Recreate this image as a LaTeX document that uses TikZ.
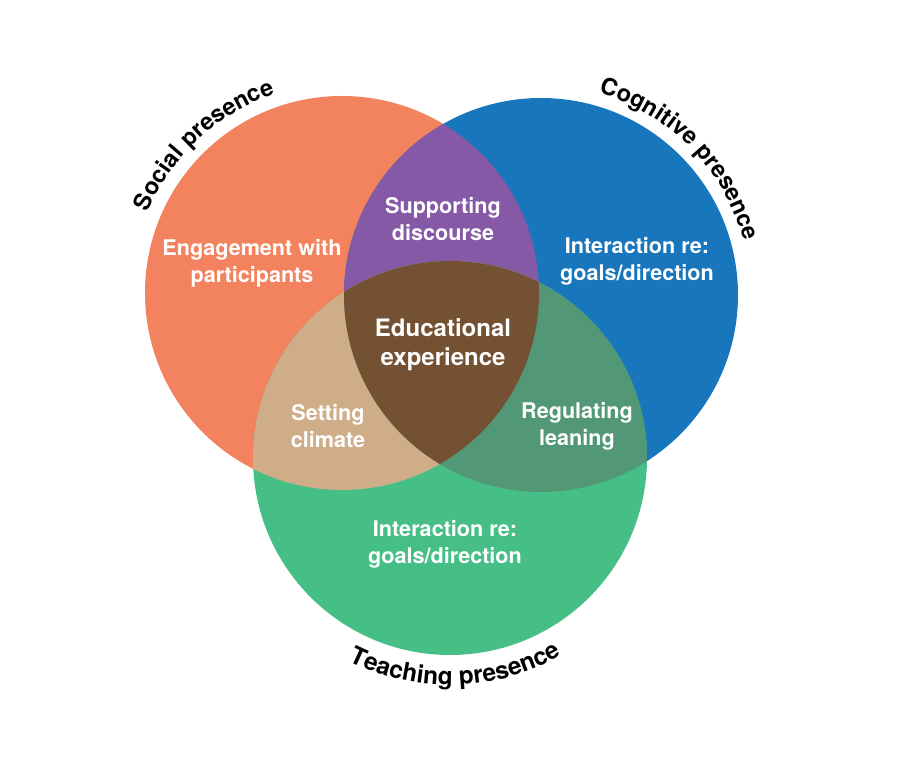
\documentclass[tikz,border=0pt]{standalone}
\usepackage{fontspec}
\setmainfont{TeX Gyre Heros}
\usetikzlibrary{decorations.text}

\definecolor{csocial}{HTML}{F3825F}
\definecolor{ccognitive}{HTML}{1776BC}
\definecolor{cteaching}{HTML}{46BF86}
\definecolor{cdiscourse}{HTML}{8559A6}
\definecolor{cclimate}{HTML}{CFAD89}
\definecolor{cregulate}{HTML}{529877}
\definecolor{ccore}{HTML}{745132}

\tikzset{
  inlabel/.style={text=white, align=center, inner sep=0pt,
    font=\bfseries\fontsize{21.6}{27}\selectfont},
  corelabel/.style={inlabel, font=\bfseries\fontsize{24}{29}\selectfont},
  arclabel/.style 2 args={decorate, decoration={text along path, text align=center,
    text={|\bfseries\fontsize{#1}{28}\selectfont|#2}}}
}

\begin{document}
\begin{tikzpicture}[x=1pt,y=1pt]
\useasboundingbox (0,0) rectangle (900,773);

% circle centres
\coordinate (so) at (342,480);
\coordinate (co) at (541,478);
\coordinate (te) at (450,315);

% the three presences
\fill[csocial] (so) circle[radius=197pt];
\fill[ccognitive] (co) circle[radius=197pt];
\fill[cteaching] (te) circle[radius=197pt];

% pairwise overlaps
\begin{scope}
  \clip (so) circle[radius=197pt];
  \fill[cdiscourse] (co) circle[radius=197pt];
\end{scope}
\begin{scope}
  \clip (so) circle[radius=197pt];
  \fill[cclimate] (te) circle[radius=197pt];
\end{scope}
\begin{scope}
  \clip (co) circle[radius=197pt];
  \fill[cregulate] (te) circle[radius=197pt];
\end{scope}
% triple overlap
\begin{scope}
  \clip (so) circle[radius=197pt];
  \clip (co) circle[radius=197pt];
  \fill[ccore] (te) circle[radius=197pt];
\end{scope}

% region labels
\node[inlabel] (eng) at (252,510) {Engagement with\\participants};
\node[inlabel] (sup) at (443,554) {Supporting\\discourse};
\node[inlabel] (goal1) at (637,512) {Interaction re:\\goals/direction};
\node[corelabel] (edu) at (443,428) {Educational\\experience};
\node[inlabel] (set) at (328,347) {Setting\\climate};
\node[inlabel] (reg) at (577,347) {Regulating\\leaning};
\node[inlabel] (goal2) at (445,229) {Interaction re:\\goals/direction};

% curved titles
\path[arclabel={23.5}{Social presence}] (so) ++(178:210pt)
  arc[start angle=178, end angle=88, radius=210pt];
\path[arclabel={23.5}{Cognitive presence}] (co) ++(89.5:210pt)
  arc[start angle=89.5, end angle=-0.5, radius=210pt];
\path[arclabel={24.5}{Teaching presence}] (te) ++(226.5:227pt)
  arc[start angle=226.5, end angle=316.5, radius=227pt];
\end{tikzpicture}
\end{document}
